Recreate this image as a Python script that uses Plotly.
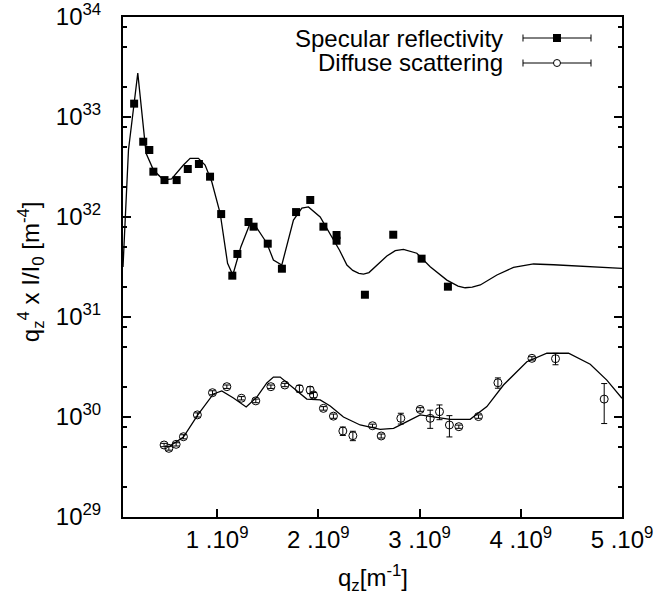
import plotly.graph_objects as go

# ---- data (x in 1e9 m^-1) ----
spec_x = [0.18, 0.27, 0.33, 0.37, 0.48, 0.60, 0.71, 0.82, 0.93, 1.04, 1.15, 1.20, 1.31, 1.36,
          1.50, 1.64, 1.78, 1.92, 2.05, 2.18, 2.18, 2.46, 2.74, 3.02, 3.28]
spec_y = [1.36e33, 5.66e32, 4.68e32, 2.84e32, 2.34e32, 2.34e32, 3.02e32, 3.39e32, 2.53e32, 1.07e32,
          2.59e31, 4.27e31, 8.91e31, 8.0e31, 5.41e31, 3.04e31, 1.12e32, 1.48e32, 8.0e31, 6.61e31,
          5.79e31, 1.67e31, 6.65e31, 3.83e31, 2.01e31]

spec_fit_x = [0.07, 0.124, 0.216, 0.298, 0.371, 0.47, 0.55, 0.667, 0.733, 0.815, 0.881, 0.947,
              1.03, 1.103, 1.155, 1.235, 1.326, 1.392, 1.49, 1.556, 1.639, 1.754, 1.837, 1.902,
              2.018, 2.149, 2.208, 2.282, 2.34, 2.40, 2.446, 2.50, 2.56, 2.677, 2.76, 2.841,
              2.973, 3.105, 3.27, 3.38, 3.45, 3.52, 3.60, 3.764, 3.928, 4.126, 4.324, 4.654, 5.0]
spec_fit_y = [3.16e31, 4.68e32, 2.75e33, 4.34e32, 2.95e32, 2.34e32, 2.40e32, 3.31e32, 3.86e32,
              3.86e32, 3.31e32, 2.25e32, 1.09e32, 3.44e31, 2.63e31, 5.05e31, 8.65e31, 7.76e31,
              5.50e31, 3.72e31, 3.31e31, 9.33e31, 1.23e32, 1.26e32, 1.00e32, 6.03e31, 4.68e31,
              3.31e31, 2.92e31, 2.73e31, 2.69e31, 2.78e31, 3.15e31, 4.07e31, 4.60e31, 4.75e31,
              4.34e31, 3.18e31, 2.34e31, 2.04e31, 1.96e31, 1.99e31, 2.09e31, 2.63e31, 3.14e31,
              3.39e31, 3.33e31, 3.18e31, 3.07e31]

diff_x = [0.476, 0.523, 0.595, 0.667, 0.805, 0.954, 1.096, 1.240, 1.382, 1.531, 1.669, 1.813,
          1.919, 1.952, 2.050, 2.149, 2.242, 2.341, 2.535, 2.621, 2.815, 3.006, 3.105, 3.197,
          3.295, 3.388, 3.582, 3.774, 4.110, 4.343, 4.824]
diff_y = [5.25e29, 4.86e29, 5.33e29, 6.35e29, 1.05e30, 1.75e30, 2.01e30, 1.54e30, 1.45e30,
          2.01e30, 2.09e30, 1.92e30, 1.86e30, 1.66e30, 1.22e30, 1.02e30, 7.24e29, 6.50e29,
          8.18e29, 6.46e29, 9.70e29, 1.19e30, 9.70e29, 1.13e30, 8.32e29, 8.00e29, 1.01e30,
          2.20e30, 3.86e30, 3.83e30, 1.51e30]
diff_err = [2e28, 2e28, 2e28, 3e28, 5e28, 8e28, 8e28, 6e28, 6e28, 8e28, 8e28, 1.5e29, 1.5e29,
            1e29, 5e28, 5e28, 7e28, 7e28, 3e28, 3e28, 1.2e29, 5e28, 2e29, 1.9e29, 2e29, 3e28,
            4e28, 2.6e29, 1.5e29, 5e29, 6.5e29]

diff_fit_x = [0.519, 0.667, 0.809, 0.963, 1.046, 1.161, 1.287, 1.392, 1.491, 1.556, 1.623, 1.754,
              1.886, 2.018, 2.117, 2.248, 2.413, 2.611, 2.743, 2.841, 3.006, 3.17, 3.302, 3.50,
              3.665, 3.829, 4.06, 4.258, 4.472, 4.686, 4.85, 5.0]
diff_fit_y = [5.01e29, 6.31e29, 1.05e30, 1.70e30, 1.82e30, 1.55e30, 1.26e30, 1.58e30, 2.19e30,
              2.51e30, 2.51e30, 1.95e30, 1.51e30, 1.48e30, 1.29e30, 1.00e30, 8.32e29, 7.53e29,
              7.71e29, 8.65e29, 1.05e30, 9.93e29, 9.48e29, 9.48e29, 1.27e30, 2.09e30, 3.57e30,
              4.34e30, 4.34e30, 3.37e30, 2.34e30, 1.54e30]

x_ticks = [1, 2, 3, 4, 5]
x_tick_text = ["1 .10<sup>9</sup>", "2 .10<sup>9</sup>", "3 .10<sup>9</sup>",
               "4 .10<sup>9</sup>", "5 .10<sup>9</sup>"]
y_exps = [29, 30, 31, 32, 33, 34]
legend_labels = ["Specular reflectivity", "Diffuse scattering"]

SCALE = 1e9
FONT = "Liberation Sans, Arial, sans-serif"
FS = 24

fig = go.Figure()
fig.add_trace(go.Scatter(x=[v * SCALE for v in spec_fit_x], y=spec_fit_y, mode="lines",
                         line=dict(color="black", width=1.3), showlegend=False))
fig.add_trace(go.Scatter(x=[v * SCALE for v in diff_fit_x], y=diff_fit_y, mode="lines",
                         line=dict(color="black", width=1.3), showlegend=False))
fig.add_trace(go.Scatter(x=[v * SCALE for v in spec_x], y=spec_y, mode="markers",
                         marker=dict(symbol="square", size=8, color="black"), showlegend=False))
fig.add_trace(go.Scatter(x=[v * SCALE for v in diff_x], y=diff_y, mode="markers",
                         marker=dict(symbol="circle-open", size=8, color="black",
                                     line=dict(width=1)),
                         error_y=dict(type="data", array=diff_err, color="black",
                                      thickness=1, width=3),
                         showlegend=False))

y_minor = [float(m) * 10.0 ** e for e in range(29, 34) for m in (2, 5, 8)]

fig.update_xaxes(range=[0.07 * SCALE, 5.0 * SCALE], tickmode="array",
                 tickvals=[v * SCALE for v in x_ticks], ticktext=x_tick_text,
                 ticks="inside", ticklen=8, tickwidth=1.5, tickcolor="black",
                 showline=True, linecolor="black", linewidth=2, mirror=True,
                 showgrid=False, zeroline=False, automargin=False,
                 tickfont=dict(family=FONT, size=FS, color="black"))
fig.update_yaxes(type="log", range=[29, 34], tickmode="array",
                 tickvals=[10.0 ** e for e in y_exps],
                 ticktext=["10<sup>%d</sup>" % e for e in y_exps],
                 ticks="inside", ticklen=8, tickwidth=1.5, tickcolor="black",
                 minor=dict(tickmode="array", tickvals=y_minor, ticks="inside", ticklen=4,
                            tickwidth=1.5, tickcolor="black", showgrid=False),
                 showline=True, linecolor="black", linewidth=2, mirror="ticks",
                 showgrid=False, zeroline=False, ticklabelstandoff=15, automargin=False,
                 tickfont=dict(family=FONT, size=FS, color="black"))

# axis titles
fig.add_annotation(text="q<sub>z</sub><sup>4</sup> x I/I<sub>0</sub> [m<sup>-4</sup>]",
                   xref="paper", yref="paper", x=-0.184, y=0.49, textangle=-90,
                   showarrow=False, font=dict(family=FONT, size=FS, color="black"),
                   xanchor="center", yanchor="middle")
fig.add_annotation(text="q<sub>z</sub>[m<sup>-1</sup>]",
                   xref="paper", yref="paper", x=0.5, y=-0.122,
                   showarrow=False, font=dict(family=FONT, size=FS, color="black"),
                   xanchor="center", yanchor="middle")

# legend (gnuplot style: text left, sample right)
row_y = [0.958, 0.908]
x_l, x_r, x_m = 0.8016, 0.9379, 0.8697
for i, lab in enumerate(legend_labels):
    yy = row_y[i]
    fig.add_annotation(text=lab, xref="paper", yref="paper", x=0.7655, y=yy,
                       xanchor="right", yanchor="middle", showarrow=False,
                       font=dict(family=FONT, size=FS, color="black"))
    fig.add_shape(type="line", xref="paper", yref="paper", x0=x_l, x1=x_r, y0=yy, y1=yy,
                  line=dict(color="black", width=1))
    for xc in (x_l, x_r):
        fig.add_shape(type="line", xref="paper", yref="paper", x0=xc, x1=xc,
                      y0=yy - 0.007, y1=yy + 0.007, line=dict(color="black", width=1))
    if i == 0:
        fig.add_shape(type="rect", xref="paper", yref="paper", x0=x_m - 0.008, x1=x_m + 0.008,
                      y0=yy - 0.008, y1=yy + 0.008, fillcolor="black",
                      line=dict(color="black", width=0))
    else:
        fig.add_shape(type="circle", xref="paper", yref="paper", x0=x_m - 0.007,
                      x1=x_m + 0.007, y0=yy - 0.007, y1=yy + 0.007, fillcolor="white",
                      line=dict(color="black", width=1))

fig.update_layout(width=658, height=601, margin=dict(l=123, r=36, t=17, b=84),
                  plot_bgcolor="white", paper_bgcolor="white", showlegend=False,
                  font=dict(family=FONT, size=FS, color="black"))

fig.write_html("out.html")
